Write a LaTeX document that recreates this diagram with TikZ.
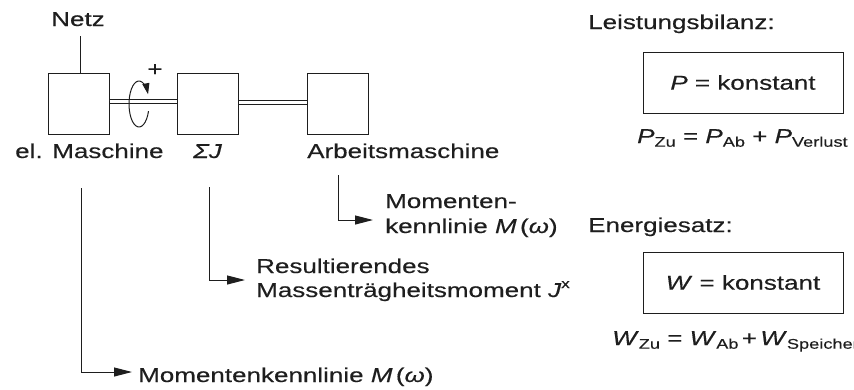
\documentclass[tikz,border=0pt]{standalone}
\usepackage{fontspec}
\setmainfont{Liberation Sans}[FakeStretch=1.3,FakeBold=0.35]
\usetikzlibrary{arrows.meta}
\definecolor{ink}{RGB}{30,30,30}
\newcommand\sbsc[1]{\raisebox{-0.35ex}{\fontsize{14}{14}\selectfont #1}}
\newcommand\spsc[1]{\raisebox{0.85ex}{\fontsize{13}{13}\selectfont #1}}
\begin{document}
\begin{tikzpicture}[x=1pt,y=-1pt,
  every node/.style={text=ink},
  txt/.style={inner sep=0pt, anchor=base west, font=\fontsize{20}{25}\selectfont},
  blk/.style={draw=ink, line width=1pt, minimum width=61pt, minimum height=61pt, inner sep=0pt},
  eqbox/.style={draw=ink, line width=1pt, minimum width=200pt, minimum height=61pt, inner sep=0pt, font=\fontsize{20}{25}\selectfont},
  ln/.style={draw=ink, line width=1pt},
  arr/.style={draw=ink, line width=1pt, -{Triangle[length=18pt,width=9pt]}},
  shaft/.style={draw=ink, double=white, double distance=3.5pt, line width=0.9pt}]
\useasboundingbox (0,0) rectangle (854,389);
\clip (0,0) rectangle (854,389);

% machine blocks
\node[blk] (m1) at (78.5,103.5) {};
\node[blk] (sj) at (208,103.5) {};
\node[blk] (am) at (337.5,103.5) {};

% Netz
\node[txt, anchor=base] (netz) at (78,26) {Netz};
\coordinate (n1) at (80,36);
\draw[ln] (n1) -- (n1 |- m1.north);

% shafts
\draw[shaft] ([yshift=2pt]m1.east) -- ([yshift=2pt]sj.west);
\draw[shaft] ([yshift=1pt]sj.east) -- ([yshift=1pt]am.west);

% rotation arrow
\coordinate (rc) at (139,104);
\draw[ln, -{Triangle[length=11pt,width=7pt]}] ([shift={(18:10 and 23)}]rc)
  arc[start angle=18, end angle=335, x radius=10, y radius=23];
\node[inner sep=0pt, font=\fontsize{20}{20}\selectfont] (plus) at (155,70) {+};

% labels
\node[txt] (l1) at (15,158) {el. Maschine};
\node[txt] (l2) at (193,158) {\textit{ΣJ}};
\node[txt] (l3) at (307,158) {Arbeitsmaschine};

% Arbeitsmaschine -> Momentenkennlinie
\coordinate (a3) at (338,175);
\coordinate (t3) at (373,220);
\draw[arr] (a3) |- (t3);
\node[txt] (mk2a) at (385,208) {Momenten-};
\node[txt] (mk2b) at (385,233) {kennlinie \textit{M}\,(\textit{ω})};

% Sigma J -> resultierendes Massentraegheitsmoment
\coordinate (a2) at (209,187);
\coordinate (t2) at (245,280);
\draw[arr] (a2) |- (t2);
\node[txt] (rm1) at (256,273) {Resultierendes};
\node[txt] (rm2) at (256,297) {Massenträgheitsmoment \textit{J}\spsc{x}};

% el. Maschine -> Momentenkennlinie
\coordinate (a1) at (81,188);
\coordinate (t1) at (132,372);
\draw[arr] (a1) |- (t1);
\node[txt] (mk1) at (138,382) {Momentenkennlinie \textit{M}\,(\textit{ω})};

% right side
\node[txt] (lb) at (588,29) {Leistungsbilanz:};
\node[eqbox] (pb) at (743,82.5) {\textit{P} = konstant};
\node[txt] (pz) at (637,143) {\textit{P}\sbsc{Zu} = \textit{P}\sbsc{Ab} + \textit{P}\sbsc{Verlust}};
\node[txt] (es) at (588,232) {Energiesatz:};
\node[eqbox] (wb) at (743,282.5) {\textit{W} = konstant};
\node[txt] (wz) at (612,345) {\textit{W}\sbsc{Zu} = \textit{W}\sbsc{Ab}\,+\,\textit{W}\sbsc{Speicher}};
\end{tikzpicture}
\end{document}
